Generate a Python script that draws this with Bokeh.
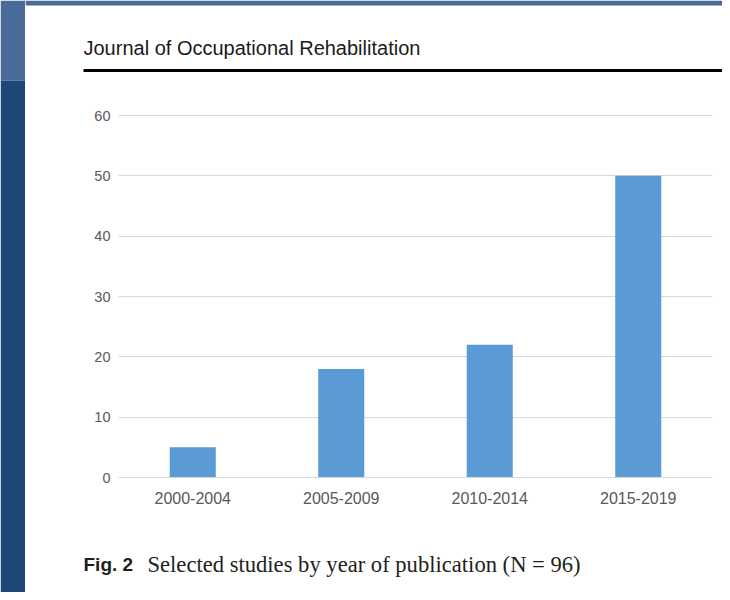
from bokeh.plotting import figure
from bokeh.models import FactorRange, Range1d, FixedTicker, Label
from bokeh.layouts import row, column
from bokeh.embed import file_html
from bokeh.resources import INLINE

# ---- data ----
periods = ["2000-2004", "2005-2009", "2010-2014", "2015-2019"]
studies = [5, 18, 22, 50]
y_ticks = [0, 10, 20, 30, 40, 50, 60]
journal_title = "Journal of Occupational Rehabilitation"
fig_label = "Fig. 2"
caption = "Selected studies by year of publication (N = 96)"

LIGHT_BLUE = "#4a6a98"
DARK_BLUE = "#1e4678"
STRIP_W = 25
MAIN_W = 697
TOP_H, CHART_H, CAP_H = 85, 440, 67
TOTAL_H = TOP_H + CHART_H + CAP_H


def blank(w, h):
    f = figure(width=w, height=h, x_range=Range1d(0, w), y_range=Range1d(h, 0),
               x_axis_type=None, y_axis_type=None, output_backend="svg",
               toolbar_location=None, min_border=0, frame_align=False)
    f.outline_line_color = None
    f.background_fill_color = "white"
    f.border_fill_color = "white"
    return f


# left page strip
strip = blank(STRIP_W, TOTAL_H)
strip.quad(left=0, right=STRIP_W, top=0, bottom=80, fill_color=LIGHT_BLUE, line_color=None)
strip.quad(left=0, right=STRIP_W, top=80, bottom=TOTAL_H, fill_color=DARK_BLUE, line_color=None)

# header: page band, journal title, rule
top = blank(MAIN_W, TOP_H)
top.quad(left=0, right=MAIN_W, top=0, bottom=5, fill_color=LIGHT_BLUE, line_color=None)
top.quad(left=58, right=MAIN_W, top=68.5, bottom=71.5, fill_color="black", line_color=None)
top.add_layout(Label(x=58, y=47, text=journal_title, text_font="Liberation Sans",
                     text_font_size="20px", text_color="#1a1a1a",
                     text_baseline="alphabetic", text_align="left"))

# chart
p = figure(width=MAIN_W, height=CHART_H, x_range=FactorRange(*periods),
           y_range=Range1d(0, 61), output_backend="svg", toolbar_location=None,
           min_border_left=93, min_border_right=10, min_border_top=24,
           min_border_bottom=48, frame_align=False)
p.outline_line_color = None
p.background_fill_color = "white"
p.border_fill_color = "white"

p.vbar(x=periods, top=studies, width=0.31, fill_color="#5b9bd5", line_color=None)

p.yaxis.ticker = FixedTicker(ticks=y_ticks)
p.yaxis.axis_line_color = None
p.yaxis.major_tick_line_color = None
p.yaxis.minor_tick_line_color = None
p.yaxis.major_tick_out = 0
p.yaxis.major_tick_in = 0
p.yaxis.major_label_standoff = 8
p.yaxis.major_label_text_font = "Liberation Sans"
p.yaxis.major_label_text_font_size = "14.5px"
p.yaxis.major_label_text_color = "#595959"

p.xaxis.axis_line_color = "#d9d9d9"
p.xaxis.major_tick_line_color = None
p.xaxis.minor_tick_line_color = None
p.xaxis.major_tick_out = 0
p.xaxis.major_tick_in = 0
p.xaxis.major_label_standoff = 14
p.xaxis.major_label_text_font = "Liberation Sans"
p.xaxis.major_label_text_font_size = "16px"
p.xaxis.major_label_text_color = "#595959"

p.xgrid.grid_line_color = None
p.ygrid.grid_line_color = "#d9d9d9"
p.ygrid.grid_line_width = 1

# caption
cap = blank(MAIN_W, CAP_H)
cap.add_layout(Label(x=58, y=39, text=fig_label, text_font="Liberation Sans",
                     text_font_size="19px", text_font_style="bold", text_color="#231f20",
                     text_baseline="alphabetic", text_align="left"))
cap.add_layout(Label(x=122, y=39, text=caption, text_font="Liberation Serif",
                     text_font_size="22.6px", text_color="#231f20",
                     text_baseline="alphabetic", text_align="left"))

layout = row(strip, column(top, p, cap, spacing=0), spacing=0)

open("out.html", "w").write(file_html(layout, INLINE))
